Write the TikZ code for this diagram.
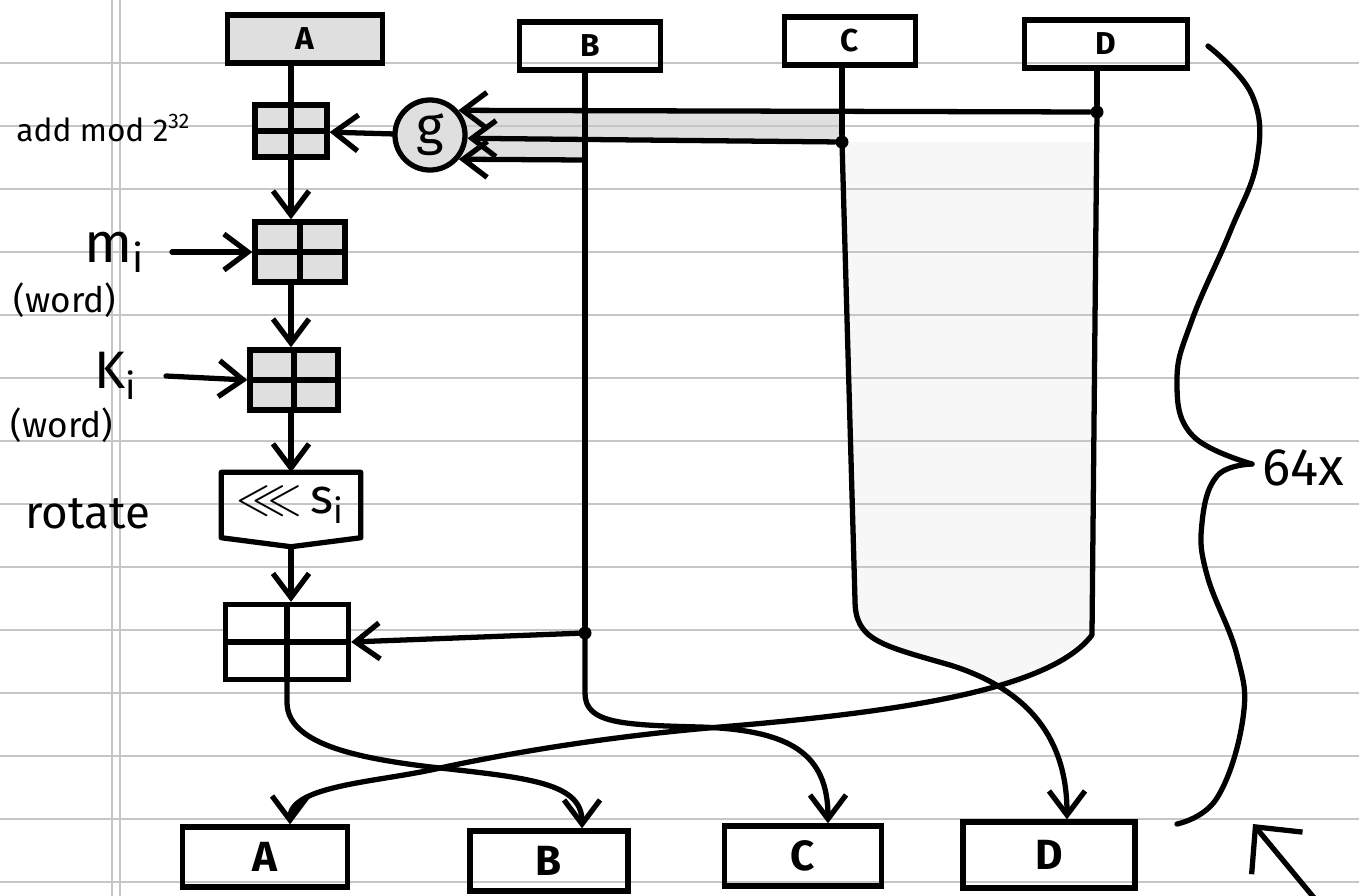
\documentclass[tikz,border=0pt]{standalone}
\usepackage{fontspec}
\setmainfont{Fira Sans}
\usepackage{amssymb}
\usepackage{tikz}
\usetikzlibrary{arrows.meta,backgrounds}

\begin{document}
\begin{tikzpicture}[x=0.01cm, y=-0.01cm, every node/.style={font=\fontsize{10}{12}\selectfont}, wire/.style={line width=1.5pt, line cap=round, line join=round}, arr/.style={wire, -{Straight Barb[length=2.4mm, width=3.6mm]}}, reg/.style={draw, line width=1.5pt, inner sep=0pt, minimum height=4.8mm, font=\fontsize{9}{10}\selectfont\bfseries}, outreg/.style={reg, minimum height=6mm, font=\fontsize{12}{13}\selectfont\bfseries}, adder/.style={draw, line width=1.5pt, inner sep=0pt, fill=gray!25, path picture={\draw[line width=1.5pt] (path picture bounding box.north) -- (path picture bounding box.south) (path picture bounding box.west) -- (path picture bounding box.east);}}, dot/.style={circle, fill, inner sep=0pt, minimum size=1.3mm}, rule/.style={gray!45, line width=0.4pt}]
\useasboundingbox (0,0) rectangle (1359,896);
% paper
\foreach \k in {1,...,14} \draw[rule] (0,63*\k) -- (1359,63*\k);
\draw[rule] (112,0) -- (112,896) (120,0) -- (120,896);
% registers in
\node[reg, fill=gray!25, minimum width=15.5mm] (Atop) at (305,39) {A};
\node[reg, minimum width=14.1mm] (Btop) at (590,46) {B};
\node[reg, minimum width=13.1mm] (Ctop) at (850,41) {C};
\node[reg, minimum width=16.3mm] (Dtop) at (1106,44) {D};
% adders and rotation
\node[adder, minimum width=7.2mm, minimum height=5.2mm] (addg) at (291,131) {};
\node[adder, minimum width=9mm, minimum height=6mm] (addm) at (300,252) {};
\node[adder, minimum width=8.8mm, minimum height=6mm] (addk) at (294,380) {};
\node[inner sep=0pt, minimum width=13.8mm, minimum height=6.4mm, font=\fontsize{14}{14}\selectfont] (rot) at (291,505) {$\lll$\,s\textsubscript{i}};
\node[adder, fill=white, minimum width=12.3mm, minimum height=7.5mm] (addb) at (287,642) {};
\node[circle, draw, line width=1.5pt, fill=gray!25, minimum size=7mm, inner sep=0pt, font=\fontsize{15}{15}\selectfont] (g) at (430,135) {g};
% labels
\node[anchor=west, font=\fontsize{9}{10}\selectfont] (addlbl) at (4,128) {add mod 2\textsuperscript{32}};
\node[anchor=east, font=\fontsize{16}{16}\selectfont] (mlbl) at (158,252) {m\textsubscript{i}};
\node (mword) at (65,300) {(word)};
\node[anchor=east, font=\fontsize{15}{15}\selectfont] (klbl) at (150,376) {K\textsubscript{i}};
\node (kword) at (62,425) {(word)};
\node[font=\fontsize{13}{13}\selectfont] (rotlbl) at (88,514) {rotate};
% registers out
\node[outreg, minimum width=16.5mm] (Aout) at (265,857) {A};
\node[outreg, minimum width=15.8mm] (Bout) at (549,861) {B};
\node[outreg, minimum width=15.7mm] (Cout) at (803,856) {C};
\node[outreg, minimum width=17.2mm, minimum height=6.6mm] (Dout) at (1049,855) {D};
% taps
\node[dot] (dD) at (1097,112) {};
\node[dot] (dC) at (842,142) {};
\coordinate (jB) at (585,160);
\node[dot] (dB) at (585,633) {};
\begin{scope}[on background layer]
\fill[gray!6] (dC.center) -- (dD.center |- dC.center) -- (1092,635) -- (1013,688) -- (950,665) .. controls (880,645) and (855,640) .. (855,600) -- cycle;
\fill[gray!25] (g.41) -- (dD.center -| dC.center) -- (dC.center) -- (g.-5) -- cycle;
\fill[gray!25] (g.-5) -- (585,139) -- (jB) -- (g.-40) -- cycle;
\end{scope}
\draw[wire] (rot.north west) -- (rot.north east) -- (rot.south east) -- ([yshift=-0.9mm]rot.south) -- (rot.south west) -- cycle;
% data path
\draw[wire] (Atop.south -| addg.north) -- (addg.north);
\draw[arr] (addg.south) -- (addg.south |- addm.north);
\draw[arr] (addm.south -| addg) -- (addk.north -| addg);
\draw[arr] (addk.south -| addg) -- (rot.north -| addg);
\draw[arr] ([yshift=-0.9mm]rot.south -| addg) -- (addb.north -| addg);
\draw[arr] (g) -- (addg);
\draw[arr] ([xshift=1.4mm]mlbl.east) -- (addm.west);
\draw[arr] ([xshift=1.6mm]klbl.east) -- (addk.west);
\draw[arr] (dD) -- (g.41);
\draw[arr] (dC) -- (g.-5);
\draw[arr] (jB) -- (g.-40);
\draw[arr] (dB) -- (addb.east);
\draw[wire] (Btop.south -| jB) -- (dB);
\draw[wire] (Ctop.south -| dC) -- (dC);
\draw[wire] (Dtop.south -| dD) -- (dD);
\draw[arr] (addb.south) -- ++(0,20) .. controls +(0,40) and +(-90,-10) .. (440,768) .. controls +(90,10) and +(0,-45) .. ([xshift=3.3mm]Bout.north);
\draw[arr] (dB.center) -- ++(0,60) .. controls +(0,30) and +(-80,-2) .. (700,727) .. controls +(90,3) and +(0,-70) .. ([xshift=2.5mm]Cout.north);
\draw[arr] (dC.center) -- (855,600) .. controls (855,640) and (880,645) .. (950,665) .. controls (1030,690) and (1067,740) .. ([xshift=1.8mm]Dout.north);
\draw[arr] (dD.center) -- (1092,635) .. controls (1050,690) and (900,712) .. (720,727) .. controls (600,737) and (500,755) .. (440,768) .. controls (380,782) and (290,785) .. ([xshift=2.5mm]Aout.north);
% 64 rounds
\draw[wire] plot[smooth, tension=0.7] coordinates {(1208,46) (1252,95) (1257,160) (1230,232) (1192,320) (1177,380) (1192,435) (1252,464)};
\draw[wire] plot[smooth, tension=0.7] coordinates {(1252,464) (1217,476) (1202,523) (1207,575) (1237,655) (1243,718) (1217,798) (1177,824)};
\node[anchor=west, inner sep=0pt, font=\fontsize{15}{15}\selectfont] (rounds) at (1262,468) {64x};
\coordinate (again) at (1320,905);
\coordinate (loop) at (1253,824);
\draw[wire, -{Straight Barb[length=3.4mm, width=6.6mm]}] (again) -- (loop);
\end{tikzpicture}
\end{document}
